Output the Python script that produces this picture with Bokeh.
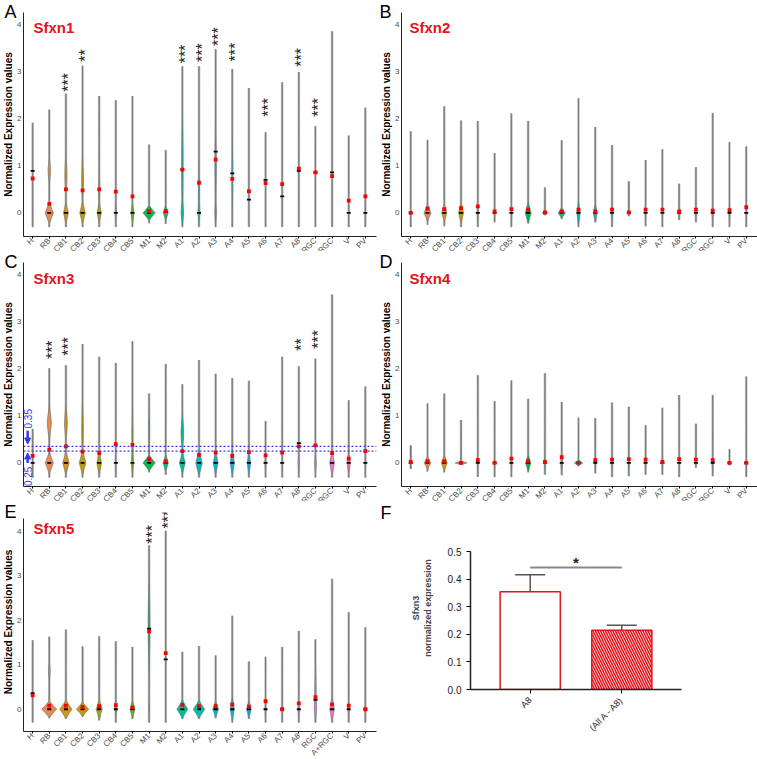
import numpy as np
from bokeh.plotting import figure
from bokeh.layouts import column, row
from bokeh.models import (Range1d, FactorRange, FixedTicker, Label, Span, Arrow, NormalHead,
                          Whisker, TeeHead, ColumnDataSource, PrintfTickFormatter, Title)
from bokeh.core.properties import value
from bokeh.embed import file_html
from bokeh.resources import INLINE

FONT = "Liberation Sans"

cats = ["H", "RB", "CB1", "CB2", "CB3", "CB4", "CB5", "M1", "M2", "A1", "A2",
        "A3", "A4", "A5", "A6", "A7", "A8", "RGC", "A+RGC", "V", "PV"]

# ---------------- Panel A : Sfxn1 ----------------
A_top = [1.91, 2.19, 2.53, 3.12, 2.48, 2.39, 2.48, 1.45, 1.33, 3.11, 3.11, 3.47, 3.05, 2.65, 1.71, 2.77, 2.99, 1.84, 3.85, 1.64, 2.23]
A_low = [-0.30, -0.30, -0.30, -0.30, -0.30, -0.30, -0.30, -0.22, -0.23, -0.30, -0.30, -0.30, -0.30, -0.30, -0.30, -0.30, -0.30, -0.30, -0.30, -0.30, -0.30]
A_mean = [0.73, 0.19, 0.50, 0.48, 0.50, 0.45, 0.35, 0.04, 0.04, 0.92, 0.64, 1.13, 0.72, 0.46, 0.63, 0.61, 0.94, 0.86, 0.78, 0.26, 0.35]
A_median = [0.89, 0.0, 0.0, 0.0, 0.0, 0.0, 0.0, 0.0, 0.02, 0.92, 0.0, 1.30, 0.84, 0.28, 0.70, 0.35, 0.89, 0.86, 0.86, 0.0, 0.0]
A_bulb = [0.0, 0.25, 0.15, 0.17, 0.12, 0.04, 0.09, 0.37, 0.15, 0.07, 0.05, 0.04, 0.0, 0.0, 0.0, 0.0, 0.0, 0.0, 0.0, 0.0, 0.0]
A_bulb_h = [0.25, 0.25, 0.25, 0.25, 0.25, 0.25, 0.25, 0.17, 0.18, 0.30, 0.30, 0.30, 0.25, 0.25, 0.25, 0.25, 0.25, 0.25, 0.25, 0.25, 0.25]
A_humps = {"RB": (0.9, 0.15, 0.07), "CB1": (0.8, 0.25, 0.06), "CB2": (0.7, 0.25, 0.05),
           "CB3": (0.5, 0.2, 0.035), "A1": (1.0, 0.6, 0.04), "A2": (0.5, 0.3, 0.03),
           "A3": (1.0, 0.5, 0.035), "A4": (0.8, 0.4, 0.025)}
A_stars = {"CB1": ("***", 2.77), "CB2": ("**", 3.34), "A1": ("***", 3.37), "A2": ("***", 3.40),
           "A3": ("***", 3.74), "A4": ("***", 3.41), "A6": ("***", 2.24), "A8": ("***", 3.30),
           "RGC": ("***", 2.24)}

# ---------------- Panel B : Sfxn2 ----------------
B_top = [1.73, 1.55, 2.26, 1.96, 1.95, 1.27, 2.11, 1.95, 0.54, 1.54, 2.43, 1.82, 1.44, 0.67, 1.12, 1.35, 0.62, 0.97, 2.12, 1.50, 1.41]
B_low = [-0.30, -0.25, -0.28, -0.30, -0.30, -0.20, -0.30, -0.22, -0.05, -0.13, -0.30, -0.20, -0.30, -0.07, -0.28, -0.30, -0.15, -0.20, -0.30, -0.30, -0.30]
B_mean = [0.00, 0.09, 0.08, 0.10, 0.14, 0.03, 0.08, 0.07, 0.01, 0.03, 0.07, 0.03, 0.07, 0.01, 0.07, 0.07, 0.03, 0.07, 0.05, 0.06, 0.12]
B_median = [0.0] * 21
B_bulb = [0.0, 0.21, 0.15, 0.15, 0.04, 0.03, 0.03, 0.18, 0.16, 0.22, 0.10, 0.12, 0.04, 0.05, 0.02, 0.02, 0.05, 0.03, 0.04, 0.03, 0.02]
B_bulb_h = [0.20, 0.20, 0.22, 0.25, 0.20, 0.20, 0.20, 0.25, 0.05, 0.12, 0.28, 0.22, 0.25, 0.07, 0.25, 0.25, 0.12, 0.20, 0.25, 0.25, 0.25]
B_humps = {}
B_stars = {}

# ---------------- Panel C : Sfxn3 ----------------
C_top = [0.72, 2.01, 2.07, 2.52, 2.25, 2.12, 2.58, 1.47, 2.10, 1.67, 2.18, 1.89, 1.80, 1.74, 0.89, 2.25, 2.05, 2.21, 3.57, 1.33, 1.62]
C_low = [-0.31, -0.31, -0.31, -0.31, -0.31, -0.31, -0.31, -0.20, -0.25, -0.31, -0.31, -0.31, -0.31, -0.31, -0.31, -0.31, -0.31, -0.31, -0.31, -0.31, -0.31]
C_mean = [0.15, 0.28, 0.35, 0.24, 0.21, 0.40, 0.38, 0.08, 0.03, 0.25, 0.17, 0.22, 0.15, 0.23, 0.16, 0.22, 0.35, 0.37, 0.21, 0.09, 0.25]
C_median = [0.0, 0.0, 0.0, 0.0, 0.0, 0.0, 0.0, 0.0, 0.0, 0.0, 0.0, 0.0, 0.0, 0.0, 0.0, 0.0, 0.42, 0.36, 0.0, 0.0, 0.0]
C_bulb = [0.0, 0.25, 0.20, 0.20, 0.14, 0.02, 0.05, 0.37, 0.16, 0.18, 0.20, 0.15, 0.13, 0.10, 0.03, 0.02, 0.04, 0.05, 0.14, 0.10, 0.02]
C_bulb_h = [0.25, 0.25, 0.27, 0.28, 0.30, 0.25, 0.25, 0.18, 0.20, 0.25, 0.30, 0.28, 0.30, 0.30, 0.25, 0.25, 0.25, 0.25, 0.30, 0.28, 0.25]
C_humps = {"RB": (0.85, 0.18, 0.12), "CB1": (0.85, 0.2, 0.08), "CB2": (0.7, 0.3, 0.04),
           "A1": (0.65, 0.2, 0.08), "CB5": (0.5, 0.4, 0.025), "M1": (0.7, 0.2, 0.025)}
C_stars = {"RB": ("***", 2.40), "CB1": ("***", 2.47), "A8": ("**", 2.51), "RGC": ("***", 2.62)}
C_thresholds = [0.35, 0.25]

# ---------------- Panel D : Sfxn4 ----------------
D_top = [0.37, 1.26, 1.47, 0.91, 1.86, 1.31, 1.75, 1.36, 1.90, 1.29, 0.96, 0.95, 1.28, 1.19, 0.80, 1.17, 1.44, 0.83, 1.44, 0.29, 1.83]
D_low = [-0.13, -0.18, -0.20, -0.03, -0.30, -0.30, -0.30, -0.20, -0.25, -0.26, -0.07, -0.22, -0.30, -0.28, -0.25, -0.25, -0.30, -0.10, -0.28, -0.05, -0.30]
D_mean = [0.02, 0.04, 0.04, 0.00, 0.06, 0.00, 0.09, 0.04, 0.02, 0.12, 0.00, 0.06, 0.07, 0.08, 0.07, 0.02, 0.08, 0.07, 0.06, 0.00, 0.00]
D_median = [0.0] * 21
D_bulb = [0.03, 0.20, 0.18, 0.35, 0.03, 0.02, 0.03, 0.16, 0.03, 0.05, 0.25, 0.03, 0.03, 0.03, 0.03, 0.03, 0.03, 0.04, 0.03, 0.03, 0.02]
D_bulb_h = [0.13, 0.15, 0.18, 0.04, 0.25, 0.25, 0.25, 0.20, 0.25, 0.25, 0.07, 0.20, 0.25, 0.25, 0.25, 0.25, 0.25, 0.10, 0.25, 0.05, 0.25]
D_humps = {}
D_stars = {}

# ---------------- Panel E : Sfxn5 ----------------
E_top = [1.55, 1.63, 1.79, 1.41, 1.64, 1.53, 1.40, 3.68, 4.01, 1.29, 1.42, 1.21, 2.10, 1.07, 1.18, 1.40, 1.76, 1.57, 2.93, 2.18, 1.84]
E_low = [-0.30, -0.20, -0.22, -0.17, -0.25, -0.30, -0.22, -0.30, -0.30, -0.22, -0.22, -0.20, -0.30, -0.22, -0.30, -0.30, -0.30, -0.30, -0.30, -0.30, -0.30]
E_mean = [0.31, 0.08, 0.08, 0.05, 0.07, 0.09, 0.04, 1.75, 1.26, 0.10, 0.07, 0.07, 0.11, 0.06, 0.18, 0.00, 0.13, 0.27, 0.11, 0.08, 0.00]
E_median = [0.36, 0.0, 0.0, 0.0, 0.0, 0.0, 0.0, 1.81, 1.12, 0.0, 0.0, 0.0, 0.0, 0.0, 0.0, 0.0, 0.0, 0.21, 0.0, 0.0, 0.0]
E_bulb = [0.0, 0.45, 0.37, 0.37, 0.18, 0.05, 0.15, 0.02, 0.0, 0.33, 0.35, 0.18, 0.12, 0.14, 0.02, 0.02, 0.05, 0.05, 0.14, 0.04, 0.02]
E_bulb_h = [0.25, 0.20, 0.22, 0.17, 0.25, 0.25, 0.22, 0.25, 0.25, 0.22, 0.22, 0.20, 0.30, 0.22, 0.25, 0.25, 0.25, 0.25, 0.30, 0.25, 0.25]
E_humps = {"M1": (1.9, 0.6, 0.05), "RB": (0.85, 0.12, 0.05), "RGC": (0.3, 0.3, 0.04)}
E_stars = {"M1": ("***", 3.93), "M2": ("***", 4.27)}

# ---------------- Panel F : Sfxn3 bar chart ----------------
F_cats = ["A8", "(All A - A8)"]
F_mean = [0.355, 0.215]
F_lower = [0.292, 0.200]
F_upper = [0.417, 0.233]
F_sig_y = 0.443
F_ticks = [0.0, 0.1, 0.2, 0.3, 0.4, 0.5]

RED = "#e3141b"
BLUE = "#3a3af2"


def hcl_hex(h, c=100.0, l=65.0):
    hr = np.deg2rad(h)
    U, V = c * np.cos(hr), c * np.sin(hr)
    Xn, Yn, Zn = 95.047, 100.0, 108.883
    Y = Yn * ((l + 16) / 116) ** 3 if l > 8 else Yn * l / 903.3
    den = Xn + 15 * Yn + 3 * Zn
    un, vn = 4 * Xn / den, 9 * Yn / den
    u = U / (13 * l) + un
    v = V / (13 * l) + vn
    X = 9.0 * Y * u / (4 * v)
    Z = -X / 3 - 5 * Y + 3 * Y / v
    X, Y, Z = X / 100, Y / 100, Z / 100
    rgb = [3.240479 * X - 1.537150 * Y - 0.498535 * Z,
           -0.969256 * X + 1.875992 * Y + 0.041556 * Z,
           0.055648 * X - 0.204043 * Y + 1.057311 * Z]
    out = []
    for t in rgb:
        t = min(max(t, 0.0), 1.0)
        t = 12.92 * t if t <= 0.0031308 else 1.055 * t ** (1 / 2.4) - 0.055
        out.append(int(round(t * 255)))
    return "#%02x%02x%02x" % tuple(out)


palette = [hcl_hex(15 + 360 * i / len(cats), 85, 66) for i in range(len(cats))]


def no_frame_align(p):
    try:
        p.frame_align = False
    except Exception:
        pass


def violin_panel(letter, gene, top, low, mean, median, bulb, bulb_h, humps, stars,
                 width, height, left, right, letter_dx, title_dx, y_end, axis_top, gene_dy):
    idx = list(range(len(cats)))
    p = figure(width=width, height=height, x_range=Range1d(-0.55, 20.67),
               y_range=Range1d(-0.5, y_end), output_backend="svg", toolbar_location=None,
               title=None, min_border_left=left, min_border_right=right,
               min_border_top=12, min_border_bottom=21)
    no_frame_align(p)
    p.outline_line_color = None
    p.xgrid.visible = False
    p.ygrid.visible = False
    p.background_fill_color = "white"

    p.segment(x0=idx, y0=low, x1=idx, y1=top, line_color="#c4c4c4", line_width=2.6)
    xs, ys = [], []
    for i, c in enumerate(cats):
        yy = np.linspace(low[i], top[i], 300)
        if low[i] < 0 < top[i]:
            yy = np.union1d(yy, [0.0])
        w = bulb[i] * np.clip(1 - np.abs(yy) / bulb_h[i], 0, None) ** 1.2
        if c in humps:
            hc, hs, hw = humps[c]
            w = w + hw * np.exp(-0.5 * ((yy - hc) / hs) ** 2)
        xs.append(np.concatenate([i - w, (i + w)[::-1]]).tolist())
        ys.append(np.concatenate([yy, yy[::-1]]).tolist())
    p.patches(xs, ys, fill_color=palette, line_color="#6c6c6c", line_width=0.7)
    p.scatter(idx, median, marker="dash", size=4, line_width=1.8, line_color="black")
    p.scatter(idx, mean, marker="square", size=3.8, fill_color="#ff0000", line_color=None)

    if stars:
        sx = [cats.index(k) for k in stars]
        sy = [v[1] for v in stars.values()]
        st = [v[0] for v in stars.values()]
        p.text(x=sx, y=sy, text=st, angle=np.pi / 2, text_align="center",
               text_baseline="middle", text_font=value(FONT), text_font_size="16px",
               text_color="#1a1a1a", x_offset=3)

    ax = p.xaxis[0]
    ax.ticker = FixedTicker(ticks=idx)
    ax.major_label_overrides = {i: c for i, c in enumerate(cats)}
    ax.major_label_orientation = np.pi / 4
    ax.major_label_text_font = FONT
    ax.major_label_text_font_size = "8px"
    ax.major_label_text_color = "#4d4d4d"
    ax.major_label_standoff = 1
    ax.axis_line_color = "#222222"
    ax.major_tick_out = 2
    ax.major_tick_in = 0
    ax.minor_tick_out = 0
    ax.minor_tick_in = 0

    ay = p.yaxis[0]
    ay.ticker = FixedTicker(ticks=[0, 1, 2, 3, 4])
    ay.bounds = (-0.5, axis_top)
    ay.axis_label = "Normalized Expression values"
    ay.axis_label_text_font = FONT
    ay.axis_label_text_font_style = "bold"
    ay.axis_label_text_font_size = "10px"
    ay.axis_label_text_color = "black"
    ay.axis_label_standoff = 0
    ay.major_label_text_font = FONT
    ay.major_label_text_font_size = "8px"
    ay.major_label_text_color = "#4d4d4d"
    ay.major_label_standoff = 2
    ay.axis_line_color = "#222222"
    ay.major_tick_out = 0
    ay.major_tick_in = 0
    ay.minor_tick_out = 0
    ay.minor_tick_in = 0

    p.add_layout(Title(text=letter, align="left", vertical_align="bottom", offset=letter_dx,
                       standoff=-18, text_font=FONT, text_font_size="18px",
                       text_font_style="normal", text_color="black"), "above")
    p.add_layout(Label(x=title_dx, y=y_end, x_units="screen", y_units="data", y_offset=gene_dy,
                       text=gene, text_font=FONT, text_font_size="15px", text_font_style="bold",
                       text_baseline="alphabetic", text_color=RED))
    return p


LW, RW = 378, 379
OV1, OV3 = 18, 4
H1, H2, H3 = 250 + OV1, 250 + OV1, 259 + OV3

pA = violin_panel("A", "Sfxn1", A_top, A_low, A_mean, A_median, A_bulb, A_bulb_h, A_humps, A_stars,
                  LW, H1, 17, 2, -19, 10, 4.25, 4.25, -15)
pB = violin_panel("B", "Sfxn2", B_top, B_low, B_mean, B_median, B_bulb, B_bulb_h, B_humps, B_stars,
                  RW, H1, 22, 0, -22, 8, 4.25, 4.25, -15)
pC = violin_panel("C", "Sfxn3", C_top, C_low, C_mean, C_median, C_bulb, C_bulb_h, C_humps, C_stars,
                  LW, H2, 17, 2, -19, 10, 4.25, 4.25, -16)
pD = violin_panel("D", "Sfxn4", D_top, D_low, D_mean, D_median, D_bulb, D_bulb_h, D_humps, D_stars,
                  RW, H2, 22, 0, -22, 8, 4.25, 4.25, -16)
pE = violin_panel("E", "Sfxn5", E_top, E_low, E_mean, E_median, E_bulb, E_bulb_h, E_humps, E_stars,
                  LW, H3, 17, 2, -19, 10, 4.42, 4.28, -16)

# threshold annotations in panel C
for t in C_thresholds:
    pC.add_layout(Span(location=t, dimension="width", line_color=BLUE, line_dash="2 2", line_width=1.2))
pC.text(x=[-0.3], y=[0.73], text=["%.2f" % C_thresholds[0]], angle=np.pi / 2, text_align="left",
        text_baseline="middle", text_font=value(FONT), text_font_size="10px", text_color=BLUE)
pC.text(x=[-0.3], y=[-0.49], text=["%.2f" % C_thresholds[1]], angle=np.pi / 2, text_align="left",
        text_baseline="middle", text_font=value(FONT), text_font_size="10px", text_color=BLUE)
pC.add_layout(Arrow(end=NormalHead(size=6, fill_color=BLUE, line_color=BLUE),
                    x_start=-0.3, y_start=0.68, x_end=-0.3, y_end=0.40,
                    line_color=BLUE, line_width=2.5))
pC.add_layout(Arrow(end=NormalHead(size=6, fill_color=BLUE, line_color=BLUE),
                    x_start=-0.3, y_start=0.0, x_end=-0.3, y_end=0.21,
                    line_color=BLUE, line_width=2.5))

# ---------------- Panel F ----------------
pF = figure(width=RW, height=H3,
            x_range=FactorRange(factors=F_cats, range_padding=0.152, range_padding_units="absolute"),
            y_range=Range1d(0, 0.592), output_backend="svg", toolbar_location=None, title=None,
            min_border_left=92, min_border_right=76, min_border_top=0, min_border_bottom=70 + OV3)
no_frame_align(pF)
pF.outline_line_color = None
pF.xgrid.visible = False
pF.ygrid.visible = False
pF.vbar(x=[F_cats[0]], top=[F_mean[0]], width=0.657, fill_color="white",
        line_color=RED, line_width=1.5)
pF.vbar(x=[F_cats[1]], top=[F_mean[1]], width=0.657, fill_color="white",
        line_color=RED, line_width=1.5, hatch_pattern="\\", hatch_color=RED,
        hatch_scale=5, hatch_weight=1.6)
src = ColumnDataSource(dict(x=F_cats, lower=F_lower, upper=F_upper))
pF.add_layout(Whisker(base="x", upper="upper", lower="lower", source=src,
                      line_color="#555555", line_width=1.5,
                      upper_head=TeeHead(size=30, line_color="#555555", line_width=1.5),
                      lower_head=TeeHead(size=30, line_color="#555555", line_width=1.5)))
pF.line(x=F_cats, y=[F_sig_y, F_sig_y], line_color="#888888", line_width=2)
pF.text(x=[1.0], y=[F_sig_y + 0.018], text=["*"], text_align="center", text_baseline="middle",
        text_font=value(FONT), text_font_size="15px", text_font_style="bold", text_color="#222222")

fy = pF.yaxis[0]
fy.ticker = FixedTicker(ticks=F_ticks)
fy.formatter = PrintfTickFormatter(format="%.1f")
fy.bounds = (0, 0.5)
fy.axis_label = "Sfxn3\nnormalized expression"
fy.axis_label_text_font = FONT
fy.axis_label_text_font_style = "bold"
fy.axis_label_text_font_size = "9px"
fy.axis_label_standoff = 12
fy.major_label_text_font = FONT
fy.major_label_text_font_size = "10px"
fy.major_label_text_color = "#222222"
fy.axis_line_color = "#222222"
fy.axis_line_width = 1.5
fy.major_tick_out = 4
fy.major_tick_in = 0
fy.minor_tick_out = 0
fy.minor_tick_in = 0
fx = pF.xaxis[0]
fx.major_label_orientation = np.pi / 4
fx.major_label_text_font = FONT
fx.major_label_text_font_size = "9px"
fx.major_label_text_color = "#222222"
fx.axis_line_color = "#222222"
fx.axis_line_width = 1.5
fx.major_tick_out = 4
fx.major_tick_in = 0
pF.add_layout(Title(text="F", align="left", vertical_align="top", offset=-90,
                    standoff=4, text_font=FONT, text_font_size="18px",
                    text_font_style="normal", text_color="black"), "above")

layout = column(row(pA, pB, styles={"margin-bottom": "-%dpx" % OV1}),
                row(pC, pD, styles={"margin-bottom": "-%dpx" % OV1}),
                row(pE, pF, styles={"margin-bottom": "-%dpx" % OV3}),
                styles={"overflow": "hidden"})
open("out.html", "w").write(file_html(layout, INLINE))
